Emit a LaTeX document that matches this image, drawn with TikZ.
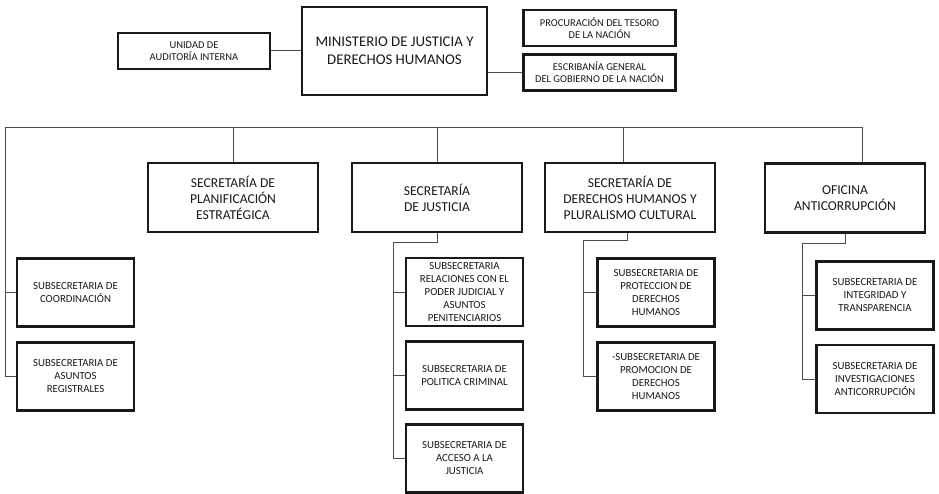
\documentclass[tikz,border=0pt]{standalone}
\usepackage{fontspec}
\setmainfont{Carlito}
\usetikzlibrary{positioning}

\begin{document}
\begin{tikzpicture}[x=1pt,y=1pt,on grid,
   box/.style={draw=black!90,line width=2.8pt,align=center,inner sep=2pt,text=black!90},
   top/.style={box,minimum width=152pt,minimum height=36pt,font=\fontsize{10.5}{12.3}\selectfont},
   sec/.style={box,minimum width=170pt,minimum height=69pt,font=\fontsize{13.6}{16}\selectfont},
   sub/.style={box,minimum width=117pt,minimum height=68pt,font=\fontsize{10.8}{13}\selectfont},
   link/.style={draw=black!70,line width=1pt}]
   \useasboundingbox (0,0) rectangle (939,-494);
   \node[box,minimum width=185pt,minimum height=88pt,font=\fontsize{14.8}{18}\selectfont] (min) at (394.5,-51) {MINISTERIO DE JUSTICIA Y\\DERECHOS HUMANOS};
   \node[top] (uai) at (194,-51) {UNIDAD DE\\AUDITORÍA INTERNA};
   \node[top] (ptn) at (599.5,-28) {PROCURACIÓN DEL TESORO\\DE LA NACIÓN};
   \node[top] (egn) [below=44.5pt of ptn] {ESCRIBANÍA GENERAL\\DEL GOBIERNO DE LA NACIÓN};
   \node[sec] (spe) at (233,-197.5) {SECRETARÍA DE\\PLANIFICACIÓN\\ESTRATÉGICA};
   \node[sec] (sj) at (437,-197.5) {SECRETARÍA\\DE JUSTICIA};
   \node[sec] (sdh) at (630,-197.5) {SECRETARÍA DE\\DERECHOS HUMANOS Y\\PLURALISMO CULTURAL};
   \node[sec,minimum width=160pt] (oa) at (845,-198) {OFICINA\\ANTICORRUPCIÓN};
   \node[sub] (ssc) at (75.5,-292.5) {SUBSECRETARIA DE\\COORDINACIÓN};
   \node[sub] (ssar) [below=84pt of ssc] {SUBSECRETARIA DE\\ASUNTOS\\REGISTRALES};
   \node[sub] (ssrj) at (464.5,-292) {SUBSECRETARIA\\RELACIONES CON EL\\PODER JUDICIAL Y\\ASUNTOS\\PENITENCIARIOS};
   \node[sub] (sspc) [below=83.5pt of ssrj] {SUBSECRETARIA DE\\POLITICA CRIMINAL};
   \node[sub] (ssaj) [below=83pt of sspc] {SUBSECRETARIA DE\\ACCESO A LA\\JUSTICIA};
   \node[sub] (ssp) at (656,-292.5) {SUBSECRETARIA DE\\PROTECCION DE\\DERECHOS\\HUMANOS};
   \node[sub] (sspr) [below=84pt of ssp] {-SUBSECRETARIA DE\\PROMOCION DE\\DERECHOS\\HUMANOS};
   \node[sub] (ssit) at (875,-295.5) {SUBSECRETARIA DE\\INTEGRIDAD Y\\TRANSPARENCIA};
   \node[sub] (ssia) [below=83.5pt of ssit] {SUBSECRETARIA DE\\INVESTIGACIONES\\ANTICORRUPCIÓN};
   \coordinate (bus) at (5,-128);
   \coordinate (jx) at (393,-243);
   \coordinate (dx) at (583,-241);
   \coordinate (ox) at (802,-244);
    \draw[link] (uai) -- (min);
    \draw[link] (min.east |- egn.west) -- (egn.west);
    \draw[link] (ssar.west) -| (bus) -| ([xshift=17pt]oa.north);
    \draw[link] (ssc.west) -- (ssc.west -| bus);
    \draw[link] (spe.north) -- (spe.north |- bus);
    \draw[link] (sj.north) -- (sj.north |- bus);
    \draw[link] ([xshift=-7pt]sdh.north) -- ([xshift=-7pt]sdh.north |- bus);
    \draw[link] (sj.south) |- (jx) |- (ssaj.west);
    \draw[link] (ssrj.west) -- (ssrj.west -| jx);
    \draw[link] (sspc.west) -- (sspc.west -| jx);
    \draw[link] ([xshift=-3pt]sdh.south) |- (dx) |- (sspr.west);
    \draw[link] (ssp.west) -- (ssp.west -| dx);
    \draw[link] (oa.south) |- (ox) |- (ssia.west);
    \draw[link] (ssit.west) -- (ssit.west -| ox);
\end{tikzpicture}
\end{document}
